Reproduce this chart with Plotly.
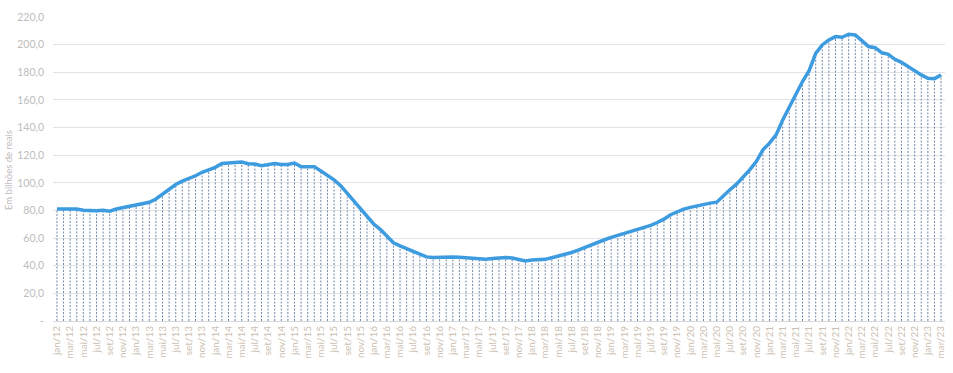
import plotly.graph_objects as go

meses = ["jan", "fev", "mar", "abr", "mai", "jun", "jul", "ago", "set", "out", "nov", "dez"]
categorias = [f"{meses[m]}/{a % 100:02d}" for a in range(2012, 2024) for m in range(12)][:135]

valores = [
    81.0, 81.0, 81.5, 81.0, 80.2, 79.8, 79.8, 80.2, 79.5, 81.0, 82.0, 82.4,
    83.6, 84.4, 85.9, 88.3, 91.7, 95.6, 98.8, 101.2, 102.9, 105.1, 107.6, 109.3,
    111.2, 114.0, 114.5, 115.0, 115.0, 113.8, 113.6, 112.4, 113.3, 114.0, 113.3, 113.3,
    114.3, 111.7, 111.7, 111.7, 108.6, 105.7, 102.1, 97.9, 92.5, 86.5, 81.0, 75.5,
    70.2, 66.3, 61.7, 56.6, 54.4, 52.5, 50.0, 48.1, 46.4, 45.9, 46.2, 46.7,
    46.4, 46.2, 45.9, 45.5, 45.0, 44.7, 45.2, 45.7, 45.9, 45.6, 44.5, 43.4,
    44.1, 44.6, 44.6, 45.8, 47.0, 48.4, 49.6, 51.3, 53.3, 54.9, 56.9, 58.8,
    60.5, 61.9, 63.4, 65.1, 66.0, 67.7, 69.2, 71.3, 73.7, 76.9, 79.0, 81.0,
    82.2, 83.4, 84.6, 85.3, 86.0, 90.8, 95.0, 99.0, 103.9, 109.4, 115.4, 123.9,
    128.7, 134.7, 145.5, 154.7, 164.3, 173.3, 181.2, 193.7, 199.8, 203.4, 205.8, 205.3,
    207.5, 207.0, 202.9, 198.6, 197.8, 194.2, 193.0, 189.4, 187.2, 184.1, 181.0, 178.1,
    175.7, 175.4, 178.1,
]

y_ticks = [0, 20, 40, 60, 80, 100, 120, 140, 160, 180, 200, 220]
y_labels = ["-"] + [f"{v},0" for v in y_ticks[1:]]
x_tick_idx = list(range(0, len(categorias), 2))
x_tick_labels = [categorias[i] for i in x_tick_idx]
y_title = "Em bilhões de reais"

idx = list(range(len(valores)))

# drop lines
dx, dy = [], []
for i, v in zip(idx, valores):
    dx += [i, i, None]
    dy += [0, v, None]

fig = go.Figure()
fig.add_trace(go.Scatter(
    x=dx, y=dy, mode="lines",
    line=dict(color="#7389aa", width=1, dash="2px,1.5px"),
    hoverinfo="skip", showlegend=False,
))
fig.add_trace(go.Scatter(
    x=idx, y=valores, mode="lines",
    line=dict(color="#3d9be0", width=3.5),
    showlegend=False,
))

L, R, T, B, W, H = 53, 8, 17, 52, 953, 373
fig.update_layout(
    width=W, height=H,
    margin=dict(l=L, r=R, t=T, b=B),
    plot_bgcolor="white", paper_bgcolor="white",
    font=dict(family="Lato, Carlito, sans-serif"),
    xaxis=dict(
        range=[-0.6, len(valores) - 0.4],
        tickmode="array", tickvals=x_tick_idx, ticktext=x_tick_labels,
        tickangle=-90, tickfont=dict(size=10, color="#cdbfb2"),
        showgrid=False, zeroline=False,
        showline=True, linecolor="#d9d9d9", linewidth=1,
        ticks="", automargin=False,
    ),
    yaxis=dict(
        range=[0, 220],
        tickmode="array", tickvals=y_ticks, ticktext=y_labels,
        tickfont=dict(size=10.5, color="#bdbdbd"),
        showgrid=True, gridcolor="#e0e4ea", gridwidth=1.3,
        zeroline=False, ticks="", ticklen=0, automargin=False,
        ticklabelstandoff=8,
    ),
    annotations=[dict(
        text=y_title, textangle=-90, showarrow=False,
        xref="paper", yref="paper",
        x=(8 - L) / (W - L - R), y=(H - B - 170) / (H - T - B),
        xanchor="center", yanchor="middle",
        font=dict(size=9.5, color="#bdbdbd"),
    )],
)

fig.write_html(
    "out.html",
    config={"displayModeBar": False},
    post_script="document.body.style.margin='0px';document.body.style.overflow='hidden';",
)
